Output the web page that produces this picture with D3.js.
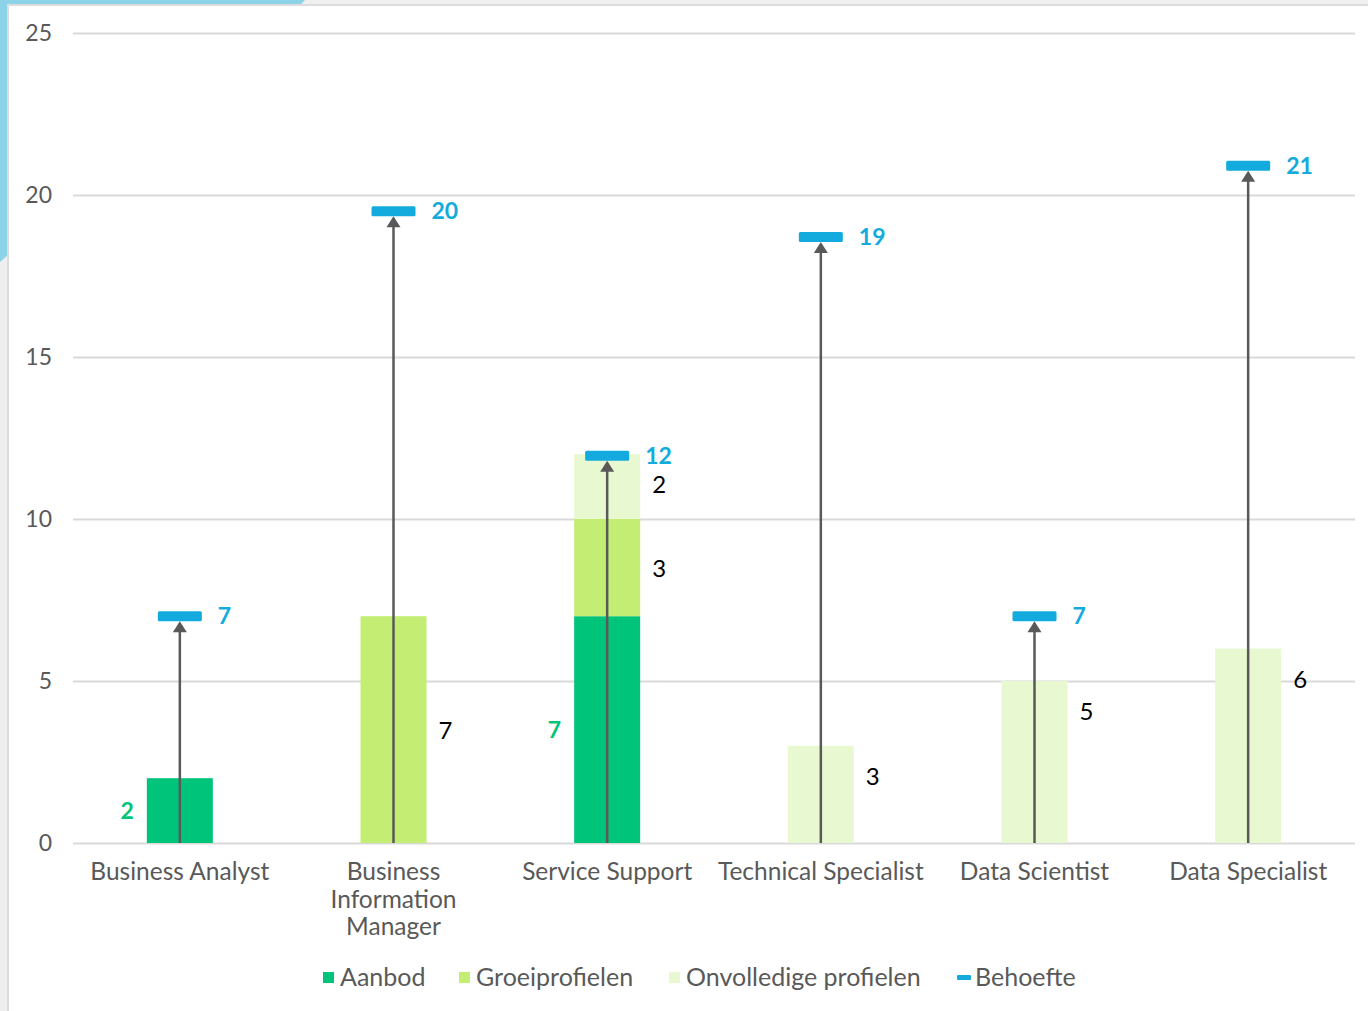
<!DOCTYPE html>
<html><head><meta charset="utf-8">
<script src="https://cdn.jsdelivr.net/npm/d3@7/dist/d3.min.js"></script>
<style>
html,body{margin:0;padding:0;background:#efefef;}
svg{display:block;}
text{font-family:Lato,"Open Sans",sans-serif;}
</style></head>
<body>
<svg id="chart" width="1368" height="1011"></svg>
<script>
const categories = [["Business Analyst"],["Business","Information","Manager"],["Service Support"],["Technical Specialist"],["Data Scientist"],["Data Specialist"]];
const aanbod = [2, 0, 7, 0, 0, 0];
const groeiprofielen = [0, 7, 3, 0, 0, 0];
const onvolledige = [0, 0, 2, 3, 5, 6];
const behoefte = [7, 19.5, 11.95, 18.7, 7, 20.9];
const yTicks = [0, 5, 10, 15, 20, 25];
const seriesNames = ["Aanbod", "Groeiprofielen", "Onvolledige profielen", "Behoefte"];
const colors = {aanbod:"#00c47a", groei:"#c4ee73", onv:"#e8f8d0", beh:"#13abdd"};

const svg = d3.select("#chart");
// background frame
svg.append("path").attr("d","M0,0 L305,0 L299,6 L8,6 L8,255 L0,262 Z").attr("fill","#8dd3e7");
svg.append("rect").attr("x",8).attr("y",5).attr("width",1400).attr("height",1020)
  .attr("fill","#fff").attr("stroke","#dcdcdc").attr("stroke-width",2);

const x = d3.scaleBand().domain(d3.range(categories.length)).range([73,1355]).paddingInner(0).paddingOuter(0);
const y = d3.scaleLinear().domain([0,25]).range([843,33]);
const bw = 66;
const cx = i => x(i) + x.bandwidth()/2;

// gridlines
const yAxis = d3.axisLeft(y).tickValues(yTicks).tickSize(-(1355-73)).tickPadding(21);
const ga = svg.append("g").attr("transform","translate(73,0)").call(yAxis);
ga.select(".domain").remove();
ga.selectAll(".tick line").attr("stroke","#d9d9d9").attr("stroke-width",2);
ga.selectAll(".tick text").attr("fill","#595959").style("font-size","23px").style("font-family","Lato,'Open Sans',sans-serif");

// x labels
const xl = svg.append("g");
categories.forEach((lines,i)=>{
  const t = xl.append("text").attr("x",cx(i)).attr("y",880).attr("text-anchor","middle")
    .attr("fill","#595959").style("font-size","24.5px");
  lines.forEach((l,j)=>t.append("tspan").attr("x",cx(i)).attr("dy", j===0?0:27.5).text(l));
});

// stacked bars
const g = svg.append("g");
categories.forEach((_,i)=>{
  const a = aanbod[i], gr = groeiprofielen[i], o = onvolledige[i];
  if(a>0) g.append("rect").attr("x",cx(i)-bw/2).attr("width",bw).attr("y",y(a)).attr("height",y(0)-y(a)).attr("fill",colors.aanbod);
  if(gr>0) g.append("rect").attr("x",cx(i)-bw/2).attr("width",bw).attr("y",y(a+gr)).attr("height",y(a)-y(a+gr)).attr("fill",colors.groei);
  if(o>0) g.append("rect").attr("x",cx(i)-bw/2).attr("width",bw).attr("y",y(a+gr+o)).attr("height",y(a+gr)-y(a+gr+o)).attr("fill",colors.onv);
  // labels
  if(a>0) g.append("text").attr("x",cx(i)-bw/2-13).attr("y",y(a/2)+8).attr("text-anchor","end")
    .attr("fill",colors.aanbod).style("font-size","23px").style("font-weight","bold").text(a);
  if(gr>0) g.append("text").attr("x",cx(i)+bw/2+12).attr("y",y(a+gr/2)+9).attr("text-anchor","start")
    .attr("fill","#000").style("font-size","24px").text(gr);
  if(o>0) g.append("text").attr("x",cx(i)+bw/2+12).attr("y",y(a+gr+o)+39).attr("text-anchor","start")
    .attr("fill","#000").style("font-size","24px").text(o);
});

// arrows & behoefte markers
categories.forEach((_,i)=>{
  const yb = y(behoefte[i]) + 5;
  g.append("line").attr("x1",cx(i)).attr("x2",cx(i)).attr("y1",y(0)).attr("y2",yb+8)
    .attr("stroke","#595959").attr("stroke-width",2.5);
  g.append("path").attr("d",`M${cx(i)},${yb} L${cx(i)-7},${yb+11} L${cx(i)+7},${yb+11} Z`).attr("fill","#595959");
  g.append("rect").attr("x",cx(i)-22).attr("y",y(behoefte[i])-5).attr("width",44).attr("height",10).attr("rx",1.5)
    .attr("fill",colors.beh);
  g.append("text").attr("x",cx(i)+38).attr("y",y(behoefte[i])+8).attr("fill",colors.beh)
    .style("font-size","23px").style("font-weight","bold").text(Math.round(behoefte[i]));
});

// legend
const leg = svg.append("g");
const legX = [323, 459, 669, 957];
const legCol = [colors.aanbod, colors.groei, colors.onv, colors.beh];
seriesNames.forEach((n,i)=>{
  if(i<3) leg.append("rect").attr("x",legX[i]).attr("y",972).attr("width",11).attr("height",11).attr("fill",legCol[i]);
  else leg.append("rect").attr("x",legX[i]).attr("y",975).attr("width",14).attr("height",5).attr("rx",1).attr("fill",legCol[i]);
  leg.append("text").attr("x",legX[i]+(i<3?17:18)).attr("y",986).attr("fill","#595959").style("font-size","25px").text(n);
});
</script>
</body></html>
